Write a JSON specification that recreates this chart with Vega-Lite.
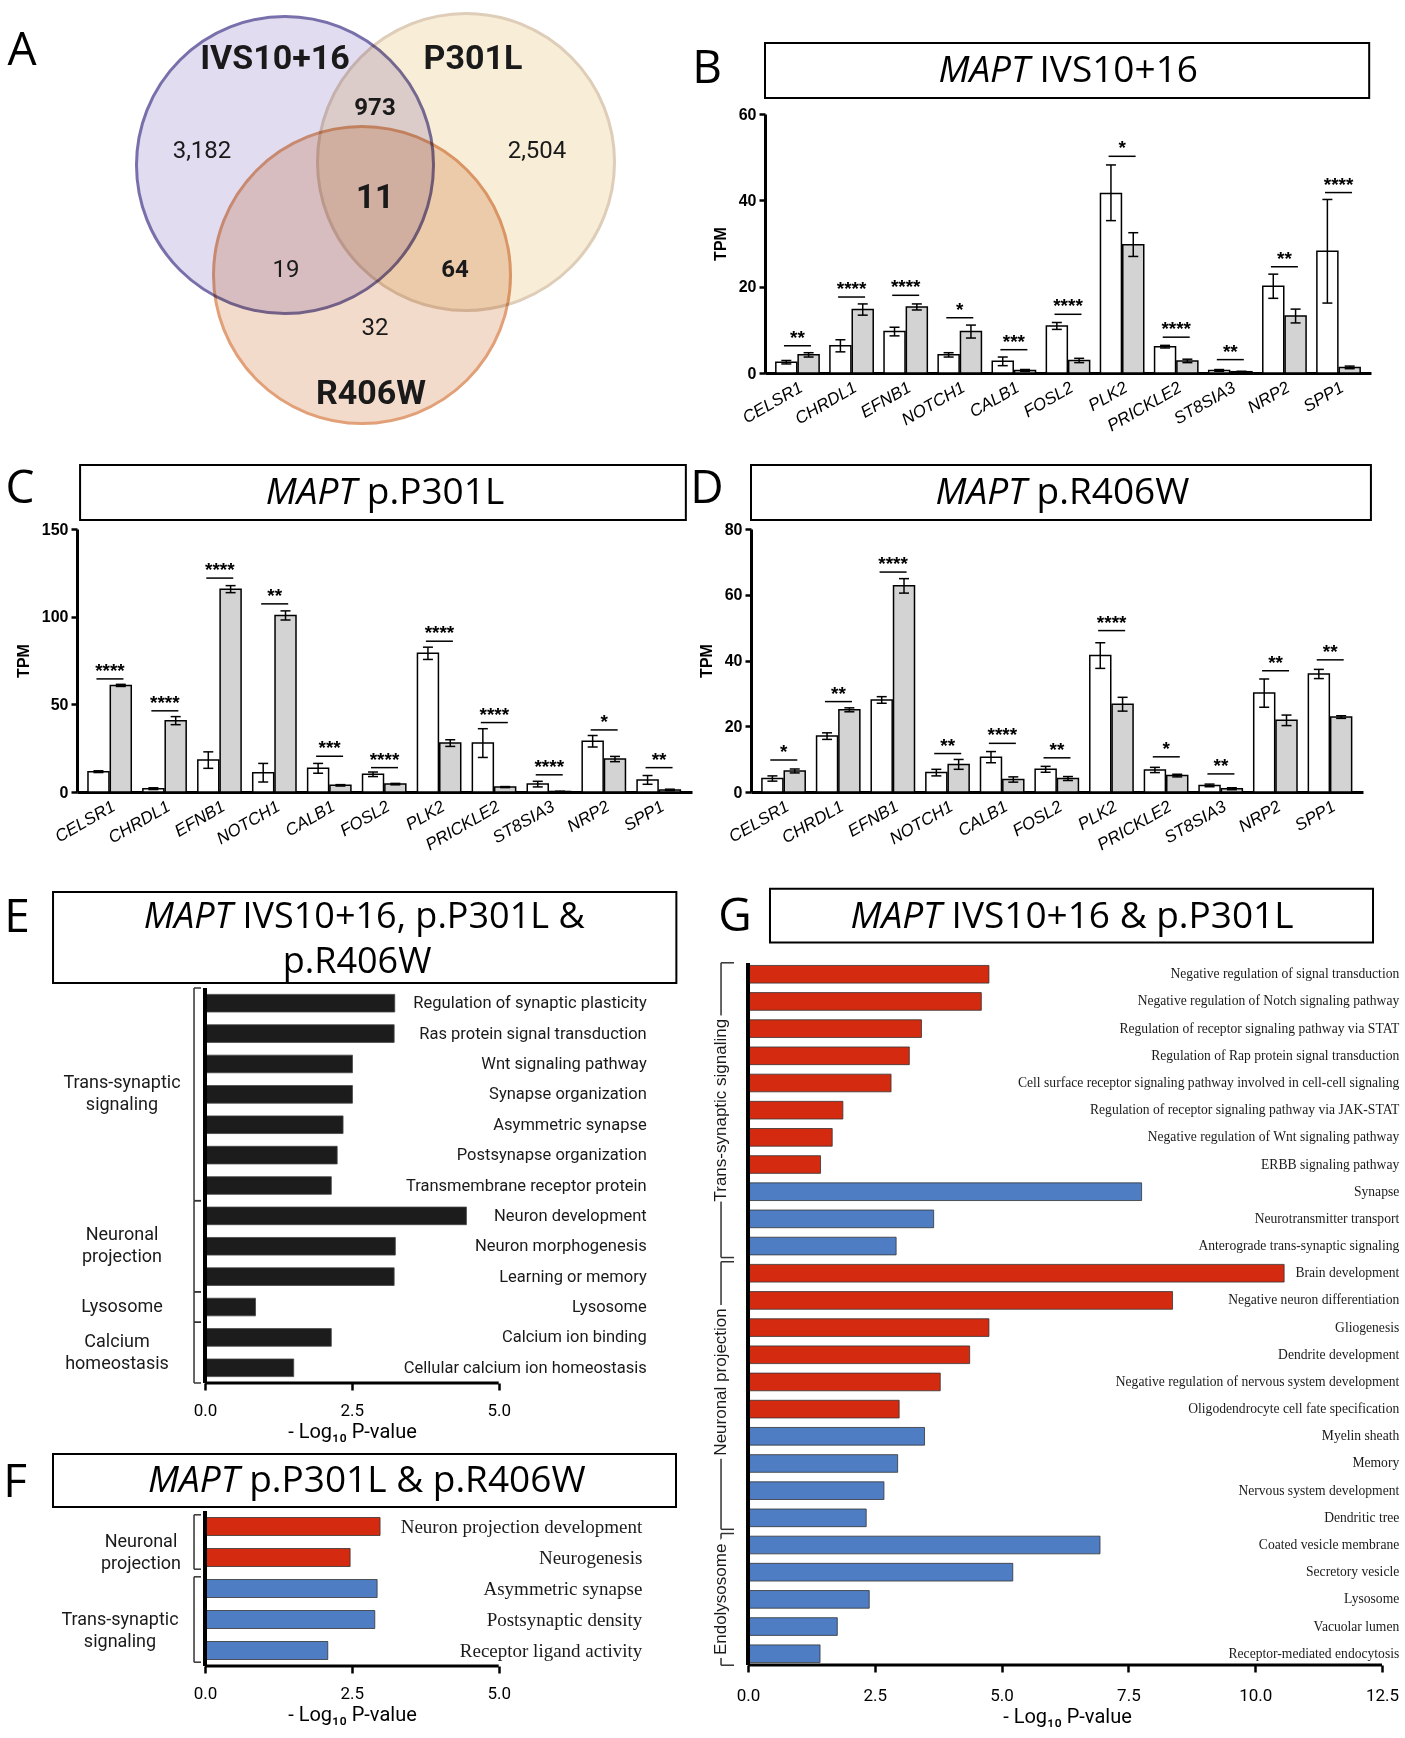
{
  "$schema": "https://vega.github.io/schema/vega-lite/v6.json",
  "background": "white",
  "padding": {"left": 0, "top": 7, "right": 5, "bottom": 5},
  "bounds": "flush",
  "spacing": 422,
  "resolve": {"scale": {"fill": "independent", "stroke": "independent"}},
  "config": {
    "view": {"stroke": null},
    "axis": {"domainColor": "black", "tickColor": "black", "labelColor": "black", "titleColor": "black", "grid": false},
    "text": {"color": "black"}
  },
  "datasets": {
    "venn_sets": [
      {"set": "IVS10+16", "cx": 2.85, "cy": 1.22},
      {"set": "P301L", "cx": 4.66, "cy": 1.19},
      {"set": "R406W", "cx": 3.62, "cy": 2.32}
    ],
    "venn_names": [
      {"set": "IVS10+16", "x": 2.75, "y": 0.16},
      {"set": "P301L", "x": 4.73, "y": 0.16},
      {"set": "R406W", "x": 3.71, "y": 3.51}
    ],
    "venn_counts": [
      {"region": "IVS10+16 only", "count": "3,182", "x": 2.02, "y": 1.08},
      {"region": "P301L only", "count": "2,504", "x": 5.37, "y": 1.08},
      {"region": "IVS10+16 & R406W", "count": "19", "x": 2.86, "y": 2.27},
      {"region": "R406W only", "count": "32", "x": 3.75, "y": 2.85}
    ],
    "venn_counts_bold": [
      {"region": "IVS10+16 & P301L", "count": "973", "x": 3.75, "y": 0.65},
      {"region": "P301L & R406W", "count": "64", "x": 4.55, "y": 2.27}
    ],
    "venn_core": [
      {"region": "All three", "count": "11", "x": 3.75, "y": 1.55}
    ],
    "b_tpm": [
      {"gene": "CELSR1", "group": "Control", "tpm": 2.5, "lo": 2.1, "hi": 2.9},
      {"gene": "CELSR1", "group": "Mutant", "tpm": 4.2, "lo": 3.7, "hi": 4.7},
      {"gene": "CHRDL1", "group": "Control", "tpm": 6.3, "lo": 4.9, "hi": 7.7},
      {"gene": "CHRDL1", "group": "Mutant", "tpm": 14.7, "lo": 13.4, "hi": 16.0},
      {"gene": "EFNB1", "group": "Control", "tpm": 9.6, "lo": 8.6, "hi": 10.6},
      {"gene": "EFNB1", "group": "Mutant", "tpm": 15.3, "lo": 14.6, "hi": 16.0},
      {"gene": "NOTCH1", "group": "Control", "tpm": 4.2, "lo": 3.7, "hi": 4.7},
      {"gene": "NOTCH1", "group": "Mutant", "tpm": 9.6, "lo": 8.1, "hi": 11.1},
      {"gene": "CALB1", "group": "Control", "tpm": 2.7, "lo": 1.7, "hi": 3.7},
      {"gene": "CALB1", "group": "Mutant", "tpm": 0.6, "lo": 0.4, "hi": 0.8},
      {"gene": "FOSL2", "group": "Control", "tpm": 10.9, "lo": 10.1, "hi": 11.7},
      {"gene": "FOSL2", "group": "Mutant", "tpm": 2.9, "lo": 2.4, "hi": 3.4},
      {"gene": "PLK2", "group": "Control", "tpm": 41.6, "lo": 35.3, "hi": 48.2},
      {"gene": "PLK2", "group": "Mutant", "tpm": 29.7, "lo": 27.0, "hi": 32.5},
      {"gene": "PRICKLE2", "group": "Control", "tpm": 6.1, "lo": 5.8, "hi": 6.4},
      {"gene": "PRICKLE2", "group": "Mutant", "tpm": 2.8, "lo": 2.4, "hi": 3.2},
      {"gene": "ST8SIA3", "group": "Control", "tpm": 0.6, "lo": 0.4, "hi": 0.8},
      {"gene": "ST8SIA3", "group": "Mutant", "tpm": 0.3, "lo": 0.2, "hi": 0.4},
      {"gene": "NRP2", "group": "Control", "tpm": 20.1, "lo": 17.3, "hi": 22.9},
      {"gene": "NRP2", "group": "Mutant", "tpm": 13.2, "lo": 11.6, "hi": 14.8},
      {"gene": "SPP1", "group": "Control", "tpm": 28.2, "lo": 16.2, "hi": 40.2},
      {"gene": "SPP1", "group": "Mutant", "tpm": 1.3, "lo": 1.0, "hi": 1.6}
    ],
    "b_sig": [
      {"gene": "CELSR1", "stars": "**", "level": 6.3},
      {"gene": "CHRDL1", "stars": "****", "level": 17.6},
      {"gene": "EFNB1", "stars": "****", "level": 18.0},
      {"gene": "NOTCH1", "stars": "*", "level": 12.8},
      {"gene": "CALB1", "stars": "***", "level": 5.4},
      {"gene": "FOSL2", "stars": "****", "level": 13.6},
      {"gene": "PLK2", "stars": "*", "level": 50.2},
      {"gene": "PRICKLE2", "stars": "****", "level": 8.3},
      {"gene": "ST8SIA3", "stars": "**", "level": 3.1},
      {"gene": "NRP2", "stars": "**", "level": 24.6},
      {"gene": "SPP1", "stars": "****", "level": 41.8}
    ],
    "c_tpm": [
      {"gene": "CELSR1", "group": "Control", "tpm": 11.6, "lo": 11.1, "hi": 12.1},
      {"gene": "CELSR1", "group": "Mutant", "tpm": 60.8, "lo": 60.2, "hi": 61.4},
      {"gene": "CHRDL1", "group": "Control", "tpm": 1.9, "lo": 1.4, "hi": 2.4},
      {"gene": "CHRDL1", "group": "Mutant", "tpm": 40.7, "lo": 38.4, "hi": 43.0},
      {"gene": "EFNB1", "group": "Control", "tpm": 18.2, "lo": 13.5, "hi": 22.9},
      {"gene": "EFNB1", "group": "Mutant", "tpm": 115.7, "lo": 113.7, "hi": 117.7},
      {"gene": "NOTCH1", "group": "Control", "tpm": 11.0, "lo": 5.7, "hi": 16.3},
      {"gene": "NOTCH1", "group": "Mutant", "tpm": 100.7, "lo": 98.1, "hi": 103.3},
      {"gene": "CALB1", "group": "Control", "tpm": 13.5, "lo": 10.7, "hi": 16.3},
      {"gene": "CALB1", "group": "Mutant", "tpm": 3.8, "lo": 3.4, "hi": 4.2},
      {"gene": "FOSL2", "group": "Control", "tpm": 10.1, "lo": 8.8, "hi": 11.4},
      {"gene": "FOSL2", "group": "Mutant", "tpm": 4.5, "lo": 4.1, "hi": 4.9},
      {"gene": "PLK2", "group": "Control", "tpm": 79.1, "lo": 75.6, "hi": 82.6},
      {"gene": "PLK2", "group": "Mutant", "tpm": 27.9, "lo": 26.0, "hi": 29.8},
      {"gene": "PRICKLE2", "group": "Control", "tpm": 27.9, "lo": 19.7, "hi": 36.1},
      {"gene": "PRICKLE2", "group": "Mutant", "tpm": 2.8, "lo": 2.5, "hi": 3.1},
      {"gene": "ST8SIA3", "group": "Control", "tpm": 4.5, "lo": 2.9, "hi": 6.1},
      {"gene": "ST8SIA3", "group": "Mutant", "tpm": 0.3, "lo": 0.2, "hi": 0.4},
      {"gene": "NRP2", "group": "Control", "tpm": 28.9, "lo": 25.6, "hi": 32.2},
      {"gene": "NRP2", "group": "Mutant", "tpm": 18.8, "lo": 17.3, "hi": 20.3},
      {"gene": "SPP1", "group": "Control", "tpm": 6.9, "lo": 4.4, "hi": 9.4},
      {"gene": "SPP1", "group": "Mutant", "tpm": 1.2, "lo": 0.8, "hi": 1.6}
    ],
    "c_sig": [
      {"gene": "CELSR1", "stars": "****", "level": 64.5},
      {"gene": "CHRDL1", "stars": "****", "level": 46.3},
      {"gene": "EFNB1", "stars": "****", "level": 122},
      {"gene": "NOTCH1", "stars": "**", "level": 107.3},
      {"gene": "CALB1", "stars": "***", "level": 20.4},
      {"gene": "FOSL2", "stars": "****", "level": 13.9},
      {"gene": "PLK2", "stars": "****", "level": 86},
      {"gene": "PRICKLE2", "stars": "****", "level": 39.6},
      {"gene": "ST8SIA3", "stars": "****", "level": 9.8},
      {"gene": "NRP2", "stars": "*", "level": 35.4},
      {"gene": "SPP1", "stars": "**", "level": 13.9}
    ],
    "d_tpm": [
      {"gene": "CELSR1", "group": "Control", "tpm": 4.1, "lo": 3.3, "hi": 4.9},
      {"gene": "CELSR1", "group": "Mutant", "tpm": 6.4, "lo": 5.8, "hi": 7.0},
      {"gene": "CHRDL1", "group": "Control", "tpm": 17.0, "lo": 16.0, "hi": 18.0},
      {"gene": "CHRDL1", "group": "Mutant", "tpm": 25.0, "lo": 24.4, "hi": 25.6},
      {"gene": "EFNB1", "group": "Control", "tpm": 28.0, "lo": 27.0, "hi": 29.0},
      {"gene": "EFNB1", "group": "Mutant", "tpm": 62.7, "lo": 60.5, "hi": 64.9},
      {"gene": "NOTCH1", "group": "Control", "tpm": 5.9, "lo": 4.9, "hi": 6.9},
      {"gene": "NOTCH1", "group": "Mutant", "tpm": 8.4, "lo": 6.9, "hi": 9.9},
      {"gene": "CALB1", "group": "Control", "tpm": 10.6, "lo": 8.9, "hi": 12.3},
      {"gene": "CALB1", "group": "Mutant", "tpm": 3.8, "lo": 3.0, "hi": 4.6},
      {"gene": "FOSL2", "group": "Control", "tpm": 6.9, "lo": 6.0, "hi": 7.8},
      {"gene": "FOSL2", "group": "Mutant", "tpm": 4.1, "lo": 3.5, "hi": 4.7},
      {"gene": "PLK2", "group": "Control", "tpm": 41.5, "lo": 37.6, "hi": 45.4},
      {"gene": "PLK2", "group": "Mutant", "tpm": 26.7, "lo": 24.6, "hi": 28.8},
      {"gene": "PRICKLE2", "group": "Control", "tpm": 6.7, "lo": 5.9, "hi": 7.5},
      {"gene": "PRICKLE2", "group": "Mutant", "tpm": 5.0, "lo": 4.6, "hi": 5.4},
      {"gene": "ST8SIA3", "group": "Control", "tpm": 2.0, "lo": 1.6, "hi": 2.4},
      {"gene": "ST8SIA3", "group": "Mutant", "tpm": 1.0, "lo": 0.7, "hi": 1.3},
      {"gene": "NRP2", "group": "Control", "tpm": 30.1, "lo": 25.8, "hi": 34.4},
      {"gene": "NRP2", "group": "Mutant", "tpm": 21.8, "lo": 20.2, "hi": 23.4},
      {"gene": "SPP1", "group": "Control", "tpm": 35.9, "lo": 34.5, "hi": 37.3},
      {"gene": "SPP1", "group": "Mutant", "tpm": 22.8, "lo": 22.4, "hi": 23.2}
    ],
    "d_sig": [
      {"gene": "CELSR1", "stars": "*", "level": 9.7},
      {"gene": "CHRDL1", "stars": "**", "level": 27.5},
      {"gene": "EFNB1", "stars": "****", "level": 66.9},
      {"gene": "NOTCH1", "stars": "**", "level": 11.7},
      {"gene": "CALB1", "stars": "****", "level": 14.8},
      {"gene": "FOSL2", "stars": "**", "level": 10.4},
      {"gene": "PLK2", "stars": "****", "level": 49.1},
      {"gene": "PRICKLE2", "stars": "*", "level": 10.7},
      {"gene": "ST8SIA3", "stars": "**", "level": 5.5},
      {"gene": "NRP2", "stars": "**", "level": 36.9},
      {"gene": "SPP1", "stars": "**", "level": 40.2}
    ],
    "e_terms": [
      {"term": "Regulation of synaptic plasticity", "neglog10p": 3.23},
      {"term": "Ras protein signal transduction", "neglog10p": 3.22},
      {"term": "Wnt signaling pathway", "neglog10p": 2.51},
      {"term": "Synapse organization", "neglog10p": 2.51},
      {"term": "Asymmetric synapse", "neglog10p": 2.35},
      {"term": "Postsynapse organization", "neglog10p": 2.25},
      {"term": "Transmembrane receptor protein", "neglog10p": 2.15},
      {"term": "Neuron development", "neglog10p": 4.45},
      {"term": "Neuron morphogenesis", "neglog10p": 3.24},
      {"term": "Learning or memory", "neglog10p": 3.22},
      {"term": "Lysosome", "neglog10p": 0.86},
      {"term": "Calcium ion binding", "neglog10p": 2.15},
      {"term": "Cellular calcium ion homeostasis", "neglog10p": 1.51}
    ],
    "e_groups": [
      {"group": "Trans-synaptic signaling", "first": "Regulation of synaptic plasticity", "last": "Transmembrane receptor protein", "at": "Synapse organization"},
      {"group": "Neuronal projection", "first": "Neuron development", "last": "Learning or memory", "at": "Neuron morphogenesis"},
      {"group": "Lysosome", "first": "Lysosome", "last": "Lysosome", "at": "Lysosome"},
      {"group": "Calcium homeostasis", "first": "Calcium ion binding", "last": "Cellular calcium ion homeostasis", "at": "Calcium ion binding"}
    ],
    "f_terms": [
      {"term": "Neuron projection development", "neglog10p": 2.98, "category": "Set 1"},
      {"term": "Neurogenesis", "neglog10p": 2.47, "category": "Set 1"},
      {"term": "Asymmetric synapse", "neglog10p": 2.93, "category": "Set 2"},
      {"term": "Postsynaptic density", "neglog10p": 2.89, "category": "Set 2"},
      {"term": "Receptor ligand activity", "neglog10p": 2.09, "category": "Set 2"}
    ],
    "f_groups": [
      {"group": "Neuronal projection", "first": "Neuron projection development", "last": "Neurogenesis", "at": "Neuron projection development"},
      {"group": "Trans-synaptic signaling", "first": "Asymmetric synapse", "last": "Receptor ligand activity", "at": "Postsynaptic density"}
    ],
    "g_terms": [
      {"term": "Negative regulation of signal transduction", "neglog10p": 4.75, "category": "Set 1"},
      {"term": "Negative regulation of Notch signaling pathway", "neglog10p": 4.60, "category": "Set 1"},
      {"term": "Regulation of receptor signaling pathway via STAT", "neglog10p": 3.42, "category": "Set 1"},
      {"term": "Regulation of Rap protein signal transduction", "neglog10p": 3.18, "category": "Set 1"},
      {"term": "Cell surface receptor signaling pathway involved in cell-cell signaling", "neglog10p": 2.82, "category": "Set 1"},
      {"term": "Regulation of receptor signaling pathway via JAK-STAT", "neglog10p": 1.87, "category": "Set 1"},
      {"term": "Negative regulation of Wnt signaling pathway", "neglog10p": 1.66, "category": "Set 1"},
      {"term": "ERBB signaling pathway", "neglog10p": 1.43, "category": "Set 1"},
      {"term": "Synapse", "neglog10p": 7.76, "category": "Set 2"},
      {"term": "Neurotransmitter transport", "neglog10p": 3.66, "category": "Set 2"},
      {"term": "Anterograde trans-synaptic signaling", "neglog10p": 2.92, "category": "Set 2"},
      {"term": "Brain development", "neglog10p": 10.57, "category": "Set 1"},
      {"term": "Negative neuron differentiation", "neglog10p": 8.37, "category": "Set 1"},
      {"term": "Gliogenesis", "neglog10p": 4.75, "category": "Set 1"},
      {"term": "Dendrite development", "neglog10p": 4.37, "category": "Set 1"},
      {"term": "Negative regulation of nervous system development", "neglog10p": 3.79, "category": "Set 1"},
      {"term": "Oligodendrocyte cell fate specification", "neglog10p": 2.98, "category": "Set 1"},
      {"term": "Myelin sheath", "neglog10p": 3.48, "category": "Set 2"},
      {"term": "Memory", "neglog10p": 2.95, "category": "Set 2"},
      {"term": "Nervous system development", "neglog10p": 2.68, "category": "Set 2"},
      {"term": "Dendritic tree", "neglog10p": 2.33, "category": "Set 2"},
      {"term": "Coated vesicle membrane", "neglog10p": 6.94, "category": "Set 2"},
      {"term": "Secretory vesicle", "neglog10p": 5.22, "category": "Set 2"},
      {"term": "Lysosome", "neglog10p": 2.39, "category": "Set 2"},
      {"term": "Vacuolar lumen", "neglog10p": 1.76, "category": "Set 2"},
      {"term": "Receptor-mediated endocytosis", "neglog10p": 1.42, "category": "Set 2"}
    ],
    "g_groups": [
      {"group": "Trans-synaptic signaling", "first": "Negative regulation of signal transduction", "last": "Anterograde trans-synaptic signaling", "at": "Regulation of receptor signaling pathway via JAK-STAT"},
      {"group": "Neuronal projection", "first": "Brain development", "last": "Dendritic tree", "at": "Negative regulation of nervous system development"},
      {"group": "Endolysosome", "first": "Coated vesicle membrane", "last": "Receptor-mediated endocytosis", "at": "Lysosome"}
    ]
  },
  "vconcat": [
    {
      "hconcat": [
        {
          "width": 745, "height": 330,
          "layer": [
            {
              "data": {"name": "venn_sets"},
              "mark": {"type": "point", "shape": "circle", "size": 88209, "filled": true, "opacity": 1, "strokeWidth": 3, "blend": "multiply"},
              "encoding": {
                "x": {"field": "cx", "type": "quantitative", "scale": {"domain": [0, 7.45], "nice": false, "zero": false}, "axis": null},
                "y": {"field": "cy", "type": "quantitative", "scale": {"domain": [0, 3.3], "nice": false, "zero": false, "reverse": true}, "axis": null},
                "fill": {"field": "set", "type": "nominal", "scale": {"domain": ["IVS10+16", "P301L", "R406W"], "range": ["#e2dcf1", "#f8edd6", "#f3dbcb"]}, "legend": null},
                "stroke": {"field": "set", "type": "nominal", "scale": {"domain": ["IVS10+16", "P301L", "R406W"], "range": ["#7870aa", "#decdb8", "#e1a077"]}, "legend": null}
              }
            },
            {
              "data": {"name": "venn_names"},
              "mark": {"type": "text", "font": "Roboto", "fontWeight": "bold", "fontSize": 34, "align": "center", "baseline": "middle", "color": "#1a1a1a"},
              "encoding": {
                "x": {"field": "x", "type": "quantitative", "axis": null},
                "y": {"field": "y", "type": "quantitative", "axis": null},
                "text": {"field": "set"}
              }
            },
            {
              "data": {"name": "venn_counts"},
              "mark": {"type": "text", "font": "Roboto", "fontSize": 24, "align": "center", "baseline": "middle", "color": "#1a1a1a"},
              "encoding": {
                "x": {"field": "x", "type": "quantitative", "axis": null},
                "y": {"field": "y", "type": "quantitative", "axis": null},
                "text": {"field": "count"}
              }
            },
            {
              "data": {"name": "venn_counts_bold"},
              "mark": {"type": "text", "font": "Roboto", "fontWeight": "bold", "fontSize": 24, "align": "center", "baseline": "middle", "color": "#1a1a1a"},
              "encoding": {
                "x": {"field": "x", "type": "quantitative", "axis": null},
                "y": {"field": "y", "type": "quantitative", "axis": null},
                "text": {"field": "count"}
              }
            },
            {
              "data": {"name": "venn_core"},
              "mark": {"type": "text", "font": "Roboto", "fontWeight": "bold", "fontSize": 33, "align": "center", "baseline": "middle", "color": "#1a1a1a"},
              "encoding": {
                "x": {"field": "x", "type": "quantitative", "axis": null},
                "y": {"field": "y", "type": "quantitative", "axis": null},
                "text": {"field": "count"}
              }
            },
            {
              "data": {"values": [{}]},
              "mark": {"type": "text", "text": "A", "font": "Open Sans", "fontSize": 46, "align": "center", "baseline": "middle"},
              "encoding": {"x": {"datum": 0.22, "axis": null}, "y": {"datum": 0.08, "axis": null}}
            }
          ]
        },
        {
          "vconcat": [
            {
              "width": 606, "height": 55,
              "data": {"values": [{}]},
              "layer": [
                {
                  "mark": {"type": "rect", "fill": "white", "stroke": "black", "strokeWidth": 2},
                  "encoding": {
                    "x": {"datum": 0, "type": "quantitative", "scale": {"domain": [0, 1], "nice": false, "zero": false}, "axis": null},
                    "x2": {"datum": 0.997},
                    "y": {"datum": 0, "type": "quantitative", "scale": {"domain": [0, 1], "nice": false, "zero": false, "reverse": true}, "axis": null},
                    "y2": {"datum": 1}
                  }
                },
                {
                  "mark": {"type": "text", "text": "MAPT", "font": "Open Sans", "fontSize": 37, "fontStyle": "italic", "align": "right", "baseline": "middle"},
                  "encoding": {"x": {"datum": 0.4365, "axis": null}, "y": {"datum": 0.5, "axis": null}}
                },
                {
                  "mark": {"type": "text", "text": "IVS10+16", "font": "Open Sans", "fontSize": 37, "align": "left", "baseline": "middle", "dx": 10},
                  "encoding": {"x": {"datum": 0.4365, "axis": null}, "y": {"datum": 0.5, "axis": null}}
                },
                {
                  "mark": {"type": "text", "text": "B", "font": "Open Sans", "fontSize": 46, "align": "center", "baseline": "middle"},
                  "encoding": {"x": {"datum": -0.0957, "axis": null}, "y": {"datum": 0.473, "axis": null}}
                }
              ]
            },
            {
              "width": 606, "height": 259,
              "layer": [
                {
                  "data": {"name": "b_tpm"},
                  "mark": {"type": "bar", "stroke": "black", "strokeWidth": 1.5},
                  "encoding": {
                    "x": {"field": "gene", "type": "nominal", "sort": null,
                          "scale": {"domain": ["CELSR1","CHRDL1","EFNB1","NOTCH1","CALB1","FOSL2","PLK2","PRICKLE2","ST8SIA3","NRP2","SPP1"], "paddingInner": 0.2, "paddingOuter": 0.2},
                          "axis": {"title": null, "labelAngle": -30, "labelAlign": "right", "labelBaseline": "top", "labelFont": "Liberation Sans", "labelFontStyle": "italic", "labelFontSize": 17, "labelPadding": 6, "ticks": false, "domainWidth": 3, "labelLimit": 200}},
                    "xOffset": {"field": "group", "type": "nominal", "sort": null, "scale": {"domain": ["Control", "Mutant"], "paddingInner": 0.06}},
                    "y": {"field": "tpm", "type": "quantitative", "scale": {"domain": [0, 60], "nice": false},
                          "axis": {"title": "TPM", "values": [0, 20, 40, 60], "labelFont": "Liberation Sans", "labelFontWeight": "bold", "labelFontSize": 16, "titleFont": "Liberation Sans", "titleFontWeight": "bold", "titleFontSize": 16, "titlePadding": 10, "tickSize": 6, "tickWidth": 2.5, "domainWidth": 3, "labelPadding": 3}},
                    "fill": {"field": "group", "type": "nominal", "scale": {"domain": ["Control", "Mutant"], "range": ["#ffffff", "#d3d3d3"]}, "legend": null}
                  }
                },
                {
                  "data": {"name": "b_tpm"},
                  "mark": {"type": "rule", "color": "black", "strokeWidth": 1.5},
                  "encoding": {
                    "x": {"field": "gene", "type": "nominal"},
                    "xOffset": {"field": "group", "type": "nominal"},
                    "y": {"field": "lo", "type": "quantitative"},
                    "y2": {"field": "hi"}
                  }
                },
                {
                  "data": {"name": "b_tpm"},
                  "mark": {"type": "tick", "orient": "horizontal", "size": 10, "thickness": 1.5, "color": "black", "opacity": 1},
                  "encoding": {
                    "x": {"field": "gene", "type": "nominal"},
                    "xOffset": {"field": "group", "type": "nominal"},
                    "y": {"field": "lo", "type": "quantitative"}
                  }
                },
                {
                  "data": {"name": "b_tpm"},
                  "mark": {"type": "tick", "orient": "horizontal", "size": 10, "thickness": 1.5, "color": "black", "opacity": 1},
                  "encoding": {
                    "x": {"field": "gene", "type": "nominal"},
                    "xOffset": {"field": "group", "type": "nominal"},
                    "y": {"field": "hi", "type": "quantitative"}
                  }
                },
                {
                  "data": {"name": "b_sig"},
                  "mark": {"type": "tick", "orient": "horizontal", "size": 27, "thickness": 1.5, "color": "black", "opacity": 1},
                  "encoding": {
                    "x": {"field": "gene", "type": "nominal"},
                    "y": {"field": "level", "type": "quantitative"}
                  }
                },
                {
                  "data": {"name": "b_sig"},
                  "mark": {"type": "text", "font": "Liberation Sans", "fontWeight": "bold", "fontSize": 19, "baseline": "alphabetic", "dy": -2},
                  "encoding": {
                    "x": {"field": "gene", "type": "nominal"},
                    "y": {"field": "level", "type": "quantitative"},
                    "text": {"field": "stars"}
                  }
                }
              ]
            }
          ],
          "spacing": 16,
          "bounds": "flush"
        }
      ],
      "spacing": 20,
      "bounds": "flush",
      "resolve": {"scale": {"fill": "independent", "stroke": "independent"}}
    },
    {
      "hconcat": [
        {
          "hconcat": [
            {
              "width": 40, "height": 48,
              "data": {"values": [{}]},
              "mark": {"type": "text", "text": "C", "font": "Open Sans", "fontSize": 46, "align": "center", "baseline": "middle"},
              "encoding": {}
            },
            {
              "vconcat": [
                {
                  "width": 615, "height": 55,
                  "data": {"values": [{}]},
                  "layer": [
                    {
                      "mark": {"type": "rect", "fill": "white", "stroke": "black", "strokeWidth": 2},
                      "encoding": {
                        "x": {"datum": 0.005, "type": "quantitative", "scale": {"domain": [0, 1], "nice": false, "zero": false}, "axis": null},
                        "x2": {"datum": 0.99},
                        "y": {"datum": 0, "type": "quantitative", "scale": {"domain": [0, 1], "nice": false, "zero": false, "reverse": true}, "axis": null},
                        "y2": {"datum": 1}
                      }
                    },
                    {
                      "mark": {"type": "text", "text": "MAPT", "font": "Open Sans", "fontSize": 37, "fontStyle": "italic", "align": "right", "baseline": "middle"},
                      "encoding": {"x": {"datum": 0.455, "axis": null}, "y": {"datum": 0.5, "axis": null}}
                    },
                    {
                      "mark": {"type": "text", "text": "p.P301L", "font": "Open Sans", "fontSize": 37, "align": "left", "baseline": "middle", "dx": 10},
                      "encoding": {"x": {"datum": 0.455, "axis": null}, "y": {"datum": 0.5, "axis": null}}
                    }
                  ]
                },
                {
                  "width": 615, "height": 263,
                  "layer": [
                    {
                      "data": {"name": "c_tpm"},
                      "mark": {"type": "bar", "stroke": "black", "strokeWidth": 1.5},
                      "encoding": {
                        "x": {"field": "gene", "type": "nominal", "sort": null,
                              "scale": {"domain": ["CELSR1","CHRDL1","EFNB1","NOTCH1","CALB1","FOSL2","PLK2","PRICKLE2","ST8SIA3","NRP2","SPP1"], "paddingInner": 0.2, "paddingOuter": 0.2},
                              "axis": {"title": null, "labelAngle": -30, "labelAlign": "right", "labelBaseline": "top", "labelFont": "Liberation Sans", "labelFontStyle": "italic", "labelFontSize": 17, "labelPadding": 6, "ticks": false, "domainWidth": 3, "labelLimit": 200}},
                        "xOffset": {"field": "group", "type": "nominal", "sort": null, "scale": {"domain": ["Control", "Mutant"], "paddingInner": 0.06}},
                        "y": {"field": "tpm", "type": "quantitative", "scale": {"domain": [0, 150], "nice": false},
                              "axis": {"title": "TPM", "values": [0, 50, 100, 150], "labelFont": "Liberation Sans", "labelFontWeight": "bold", "labelFontSize": 16, "titleFont": "Liberation Sans", "titleFontWeight": "bold", "titleFontSize": 16, "titlePadding": 10, "tickSize": 6, "tickWidth": 2.5, "domainWidth": 3, "labelPadding": 3}},
                        "fill": {"field": "group", "type": "nominal", "scale": {"domain": ["Control", "Mutant"], "range": ["#ffffff", "#d3d3d3"]}, "legend": null}
                      }
                    },
                    {
                      "data": {"name": "c_tpm"},
                      "mark": {"type": "rule", "color": "black", "strokeWidth": 1.5},
                      "encoding": {
                        "x": {"field": "gene", "type": "nominal"},
                        "xOffset": {"field": "group", "type": "nominal"},
                        "y": {"field": "lo", "type": "quantitative"},
                        "y2": {"field": "hi"}
                      }
                    },
                    {
                      "data": {"name": "c_tpm"},
                      "mark": {"type": "tick", "orient": "horizontal", "size": 10, "thickness": 1.5, "color": "black", "opacity": 1},
                      "encoding": {
                        "x": {"field": "gene", "type": "nominal"},
                        "xOffset": {"field": "group", "type": "nominal"},
                        "y": {"field": "lo", "type": "quantitative"}
                      }
                    },
                    {
                      "data": {"name": "c_tpm"},
                      "mark": {"type": "tick", "orient": "horizontal", "size": 10, "thickness": 1.5, "color": "black", "opacity": 1},
                      "encoding": {
                        "x": {"field": "gene", "type": "nominal"},
                        "xOffset": {"field": "group", "type": "nominal"},
                        "y": {"field": "hi", "type": "quantitative"}
                      }
                    },
                    {
                      "data": {"name": "c_sig"},
                      "mark": {"type": "tick", "orient": "horizontal", "size": 27, "thickness": 1.5, "color": "black", "opacity": 1},
                      "encoding": {
                        "x": {"field": "gene", "type": "nominal"},
                        "y": {"field": "level", "type": "quantitative"}
                      }
                    },
                    {
                      "data": {"name": "c_sig"},
                      "mark": {"type": "text", "font": "Liberation Sans", "fontWeight": "bold", "fontSize": 19, "baseline": "alphabetic", "dy": -2},
                      "encoding": {
                        "x": {"field": "gene", "type": "nominal"},
                        "y": {"field": "level", "type": "quantitative"},
                        "text": {"field": "stars"}
                      }
                    }
                  ]
                }
              ],
              "spacing": 9,
              "bounds": "flush"
            }
          ],
          "spacing": 37,
          "bounds": "flush",
          "resolve": {"scale": {"fill": "independent", "stroke": "independent"}}
        },
        {
          "vconcat": [
            {
              "width": 615, "height": 55,
              "data": {"values": [{}]},
              "layer": [
                {
                  "mark": {"type": "rect", "fill": "white", "stroke": "black", "strokeWidth": 2},
                  "encoding": {
                    "x": {"datum": 0, "type": "quantitative", "scale": {"domain": [0, 1], "nice": false, "zero": false}, "axis": null},
                    "x2": {"datum": 1.008},
                    "y": {"datum": 0, "type": "quantitative", "scale": {"domain": [0, 1], "nice": false, "zero": false, "reverse": true}, "axis": null},
                    "y2": {"datum": 1}
                  }
                },
                {
                  "mark": {"type": "text", "text": "MAPT", "font": "Open Sans", "fontSize": 37, "fontStyle": "italic", "align": "right", "baseline": "middle"},
                  "encoding": {"x": {"datum": 0.4481, "axis": null}, "y": {"datum": 0.5, "axis": null}}
                },
                {
                  "mark": {"type": "text", "text": "p.R406W", "font": "Open Sans", "fontSize": 37, "align": "left", "baseline": "middle", "dx": 10},
                  "encoding": {"x": {"datum": 0.4481, "axis": null}, "y": {"datum": 0.5, "axis": null}}
                },
                {
                  "mark": {"type": "text", "text": "D", "font": "Open Sans", "fontSize": 46, "align": "center", "baseline": "middle"},
                  "encoding": {"x": {"datum": -0.0715, "axis": null}, "y": {"datum": 0.436, "axis": null}}
                }
              ]
            },
            {
              "width": 612, "height": 263,
              "layer": [
                {
                  "data": {"name": "d_tpm"},
                  "mark": {"type": "bar", "stroke": "black", "strokeWidth": 1.5},
                  "encoding": {
                    "x": {"field": "gene", "type": "nominal", "sort": null,
                          "scale": {"domain": ["CELSR1","CHRDL1","EFNB1","NOTCH1","CALB1","FOSL2","PLK2","PRICKLE2","ST8SIA3","NRP2","SPP1"], "paddingInner": 0.2, "paddingOuter": 0.2},
                          "axis": {"title": null, "labelAngle": -30, "labelAlign": "right", "labelBaseline": "top", "labelFont": "Liberation Sans", "labelFontStyle": "italic", "labelFontSize": 17, "labelPadding": 6, "ticks": false, "domainWidth": 3, "labelLimit": 200}},
                    "xOffset": {"field": "group", "type": "nominal", "sort": null, "scale": {"domain": ["Control", "Mutant"], "paddingInner": 0.06}},
                    "y": {"field": "tpm", "type": "quantitative", "scale": {"domain": [0, 80], "nice": false},
                          "axis": {"title": "TPM", "values": [0, 20, 40, 60, 80], "labelFont": "Liberation Sans", "labelFontWeight": "bold", "labelFontSize": 16, "titleFont": "Liberation Sans", "titleFontWeight": "bold", "titleFontSize": 16, "titlePadding": 10, "tickSize": 6, "tickWidth": 2.5, "domainWidth": 3, "labelPadding": 3}},
                    "fill": {"field": "group", "type": "nominal", "scale": {"domain": ["Control", "Mutant"], "range": ["#ffffff", "#d3d3d3"]}, "legend": null}
                  }
                },
                {
                  "data": {"name": "d_tpm"},
                  "mark": {"type": "rule", "color": "black", "strokeWidth": 1.5},
                  "encoding": {
                    "x": {"field": "gene", "type": "nominal"},
                    "xOffset": {"field": "group", "type": "nominal"},
                    "y": {"field": "lo", "type": "quantitative"},
                    "y2": {"field": "hi"}
                  }
                },
                {
                  "data": {"name": "d_tpm"},
                  "mark": {"type": "tick", "orient": "horizontal", "size": 10, "thickness": 1.5, "color": "black", "opacity": 1},
                  "encoding": {
                    "x": {"field": "gene", "type": "nominal"},
                    "xOffset": {"field": "group", "type": "nominal"},
                    "y": {"field": "lo", "type": "quantitative"}
                  }
                },
                {
                  "data": {"name": "d_tpm"},
                  "mark": {"type": "tick", "orient": "horizontal", "size": 10, "thickness": 1.5, "color": "black", "opacity": 1},
                  "encoding": {
                    "x": {"field": "gene", "type": "nominal"},
                    "xOffset": {"field": "group", "type": "nominal"},
                    "y": {"field": "hi", "type": "quantitative"}
                  }
                },
                {
                  "data": {"name": "d_sig"},
                  "mark": {"type": "tick", "orient": "horizontal", "size": 27, "thickness": 1.5, "color": "black", "opacity": 1},
                  "encoding": {
                    "x": {"field": "gene", "type": "nominal"},
                    "y": {"field": "level", "type": "quantitative"}
                  }
                },
                {
                  "data": {"name": "d_sig"},
                  "mark": {"type": "text", "font": "Liberation Sans", "fontWeight": "bold", "fontSize": 19, "baseline": "alphabetic", "dy": -2},
                  "encoding": {
                    "x": {"field": "gene", "type": "nominal"},
                    "y": {"field": "level", "type": "quantitative"},
                    "text": {"field": "stars"}
                  }
                }
              ]
            }
          ],
          "spacing": 9,
          "bounds": "flush"
        }
      ],
      "spacing": 751,
      "bounds": "flush",
      "resolve": {"scale": {"fill": "independent", "stroke": "independent"}}
    },
    {
      "hconcat": [
        {
          "vconcat": [
            {
              "vconcat": [
                {
                  "width": 673, "height": 96,
                  "data": {"values": [{}]},
                  "layer": [
                    {
                      "mark": {"type": "rect", "fill": "white", "stroke": "black", "strokeWidth": 2},
                      "encoding": {
                        "x": {"datum": 0.0788, "type": "quantitative", "scale": {"domain": [0, 1], "nice": false, "zero": false}, "axis": null},
                        "x2": {"datum": 1.005},
                        "y": {"datum": 0.052, "type": "quantitative", "scale": {"domain": [0, 1], "nice": false, "zero": false, "reverse": true}, "axis": null},
                        "y2": {"datum": 1}
                      }
                    },
                    {
                      "mark": {"type": "text", "text": "MAPT", "font": "Open Sans", "fontSize": 36, "fontStyle": "italic", "align": "right", "baseline": "middle"},
                      "encoding": {"x": {"datum": 0.3455, "axis": null}, "y": {"datum": 0.315, "axis": null}}
                    },
                    {
                      "mark": {"type": "text", "text": "IVS10+16, p.P301L &", "font": "Open Sans", "fontSize": 36, "align": "left", "baseline": "middle", "dx": 10},
                      "encoding": {"x": {"datum": 0.3455, "axis": null}, "y": {"datum": 0.315, "axis": null}}
                    },
                    {
                      "mark": {"type": "text", "text": "p.R406W", "font": "Open Sans", "fontSize": 36, "align": "center", "baseline": "middle"},
                      "encoding": {"x": {"datum": 0.5305, "axis": null}, "y": {"datum": 0.78, "axis": null}}
                    },
                    {
                      "mark": {"type": "text", "text": "E", "font": "Open Sans", "fontSize": 46, "align": "center", "baseline": "middle"},
                      "encoding": {"x": {"datum": 0.0253, "axis": null}, "y": {"datum": 0.323, "axis": null}}
                    }
                  ]
                },
                {
                  "width": 673, "height": 395,
                  "layer": [
                    {
                      "data": {"name": "e_terms"},
                      "mark": {"type": "bar", "color": "#1c1c1c", "stroke": "#444444", "strokeWidth": 0.8},
                      "encoding": {
                        "y": {"field": "term", "type": "nominal", "sort": null,
                              "scale": {"domain": ["Regulation of synaptic plasticity","Ras protein signal transduction","Wnt signaling pathway","Synapse organization","Asymmetric synapse","Postsynapse organization","Transmembrane receptor protein","Neuron development","Neuron morphogenesis","Learning or memory","Lysosome","Calcium ion binding","Cellular calcium ion homeostasis"], "paddingInner": 0.42, "paddingOuter": 0.21},
                              "axis": null},
                        "x": {"field": "neglog10p", "type": "quantitative", "scale": {"domain": [-3.49, 7.967], "nice": false, "zero": false},
                              "axis": {"title": "- Log₁₀ P-value", "values": [0, 2.5, 5], "format": ".1f", "domain": false, "tickSize": 7, "tickWidth": 2.5, "labelFont": "Roboto", "labelFontSize": 17, "labelPadding": 12, "titleFont": "Roboto", "titleFontSize": 20, "titleFontWeight": "normal", "titlePadding": 3, "titleX": 352}},
                        "x2": {"datum": 0}
                      }
                    },
                    {
                      "data": {"name": "e_terms"},
                      "mark": {"type": "text", "align": "right", "baseline": "middle", "font": "Roboto", "fontSize": 16.5, "color": "#1a1a1a"},
                      "encoding": {
                        "y": {"field": "term", "type": "nominal", "axis": null},
                        "x": {"datum": 7.52},
                        "text": {"field": "term"}
                      }
                    },
                    {
                      "data": {"values": [{}]},
                      "mark": {"type": "rule", "color": "black", "strokeWidth": 4},
                      "encoding": {"x": {"datum": 0}}
                    },
                    {
                      "data": {"values": [{}]},
                      "mark": {"type": "rule", "color": "black", "strokeWidth": 3},
                      "encoding": {"x": {"datum": 0}, "x2": {"datum": 5}, "y": {"value": "height"}}
                    },
                    {
                      "data": {"name": "e_groups"},
                      "mark": {"type": "rule", "color": "#333333", "strokeWidth": 1.5},
                      "encoding": {
                        "x": {"datum": -0.187},
                        "y": {"field": "first", "type": "nominal", "bandPosition": -0.362, "axis": null},
                        "y2": {"field": "last", "bandPosition": 1.362}
                      }
                    },
                    {
                      "data": {"name": "e_groups"},
                      "mark": {"type": "rule", "color": "#333333", "strokeWidth": 1.5},
                      "encoding": {
                        "x": {"datum": -0.187}, "x2": {"datum": -0.068},
                        "y": {"field": "first", "type": "nominal", "bandPosition": -0.362, "axis": null}
                      }
                    },
                    {
                      "data": {"name": "e_groups"},
                      "mark": {"type": "rule", "color": "#333333", "strokeWidth": 1.5},
                      "encoding": {
                        "x": {"datum": -0.187}, "x2": {"datum": -0.068},
                        "y": {"field": "last", "type": "nominal", "bandPosition": 1.362, "axis": null}
                      }
                    },
                    {
                      "data": {"name": "e_groups"},
                      "transform": [{"filter": {"field": "group", "oneOf": ["Trans-synaptic signaling", "Neuronal projection"]}}],
                      "mark": {"type": "text", "align": "center", "baseline": "middle", "font": "Roboto", "fontSize": 18, "lineBreak": " ", "lineHeight": 22, "dy": -11, "color": "#1a1a1a"},
                      "encoding": {
                        "x": {"datum": -1.413},
                        "y": {"field": "at", "type": "nominal", "axis": null},
                        "text": {"field": "group"}
                      }
                    },
                    {
                      "data": {"name": "e_groups"},
                      "transform": [{"filter": {"field": "group", "equal": "Lysosome"}}],
                      "mark": {"type": "text", "align": "center", "baseline": "middle", "font": "Roboto", "fontSize": 18, "color": "#1a1a1a"},
                      "encoding": {
                        "x": {"datum": -1.413},
                        "y": {"field": "at", "type": "nominal", "axis": null},
                        "text": {"field": "group"}
                      }
                    },
                    {
                      "data": {"name": "e_groups"},
                      "transform": [{"filter": {"field": "group", "equal": "Calcium homeostasis"}}],
                      "mark": {"type": "text", "align": "center", "baseline": "middle", "font": "Roboto", "fontSize": 18, "lineBreak": " ", "lineHeight": 22, "dy": -11, "color": "#1a1a1a"},
                      "encoding": {
                        "x": {"datum": -1.498},
                        "y": {"field": "at", "type": "nominal", "bandPosition": 1.362, "axis": null},
                        "text": {"field": "group"}
                      }
                    }
                  ]
                }
              ],
              "spacing": 5,
              "bounds": "flush"
            },
            {
              "vconcat": [
                {
                  "width": 676, "height": 53,
                  "data": {"values": [{}]},
                  "layer": [
                    {
                      "mark": {"type": "rect", "fill": "white", "stroke": "black", "strokeWidth": 2},
                      "encoding": {
                        "x": {"datum": 0.0784, "type": "quantitative", "scale": {"domain": [0, 1], "nice": false, "zero": false}, "axis": null},
                        "x2": {"datum": 1},
                        "y": {"datum": 0, "type": "quantitative", "scale": {"domain": [0, 1], "nice": false, "zero": false, "reverse": true}, "axis": null},
                        "y2": {"datum": 1}
                      }
                    },
                    {
                      "mark": {"type": "text", "text": "MAPT", "font": "Open Sans", "fontSize": 37, "fontStyle": "italic", "align": "right", "baseline": "middle"},
                      "encoding": {"x": {"datum": 0.3538, "axis": null}, "y": {"datum": 0.5, "axis": null}}
                    },
                    {
                      "mark": {"type": "text", "text": "p.P301L & p.R406W", "font": "Open Sans", "fontSize": 37, "align": "left", "baseline": "middle", "dx": 10},
                      "encoding": {"x": {"datum": 0.3538, "axis": null}, "y": {"datum": 0.5, "axis": null}}
                    },
                    {
                      "mark": {"type": "text", "text": "F", "font": "Open Sans", "fontSize": 46, "align": "center", "baseline": "middle"},
                      "encoding": {"x": {"datum": 0.0222, "axis": null}, "y": {"datum": 0.547, "axis": null}}
                    }
                  ]
                },
                {
                  "width": 673, "height": 155,
                  "layer": [
                    {
                      "data": {"name": "f_terms"},
                      "mark": {"type": "bar", "stroke": "#333333", "strokeWidth": 0.8},
                      "encoding": {
                        "y": {"field": "term", "type": "nominal", "sort": null,
                              "scale": {"domain": ["Neuron projection development","Neurogenesis","Asymmetric synapse","Postsynaptic density","Receptor ligand activity"], "paddingInner": 0.42, "paddingOuter": 0.21},
                              "axis": null},
                        "x": {"field": "neglog10p", "type": "quantitative", "scale": {"domain": [-3.49, 7.967], "nice": false, "zero": false},
                              "axis": {"title": "- Log₁₀ P-value", "values": [0, 2.5, 5], "format": ".1f", "domain": false, "tickSize": 7, "tickWidth": 2.5, "labelFont": "Roboto", "labelFontSize": 17, "labelPadding": 12, "titleFont": "Roboto", "titleFontSize": 20, "titleFontWeight": "normal", "titlePadding": 3, "titleX": 352}},
                        "x2": {"datum": 0},
                        "fill": {"field": "category", "type": "nominal", "scale": {"domain": ["Set 1", "Set 2"], "range": ["#d42b10", "#4f7dc4"]}, "legend": null}
                      }
                    },
                    {
                      "data": {"name": "f_terms"},
                      "mark": {"type": "text", "align": "right", "baseline": "middle", "font": "Liberation Serif", "fontSize": 19, "color": "#1a1a1a"},
                      "encoding": {
                        "y": {"field": "term", "type": "nominal", "axis": null},
                        "x": {"datum": 7.445},
                        "text": {"field": "term"}
                      }
                    },
                    {
                      "data": {"values": [{}]},
                      "mark": {"type": "rule", "color": "black", "strokeWidth": 4},
                      "encoding": {"x": {"datum": 0}}
                    },
                    {
                      "data": {"values": [{}]},
                      "mark": {"type": "rule", "color": "black", "strokeWidth": 3},
                      "encoding": {"x": {"datum": 0}, "x2": {"datum": 5}, "y": {"value": "height"}}
                    },
                    {
                      "data": {"name": "f_groups"},
                      "mark": {"type": "rule", "color": "#333333", "strokeWidth": 1.5},
                      "encoding": {
                        "x": {"datum": -0.187},
                        "y": {"field": "first", "type": "nominal", "bandPosition": -0.15, "axis": null},
                        "y2": {"field": "last", "bandPosition": 1.15}
                      }
                    },
                    {
                      "data": {"name": "f_groups"},
                      "mark": {"type": "rule", "color": "#333333", "strokeWidth": 1.5},
                      "encoding": {
                        "x": {"datum": -0.187}, "x2": {"datum": -0.068},
                        "y": {"field": "first", "type": "nominal", "bandPosition": -0.15, "axis": null}
                      }
                    },
                    {
                      "data": {"name": "f_groups"},
                      "mark": {"type": "rule", "color": "#333333", "strokeWidth": 1.5},
                      "encoding": {
                        "x": {"datum": -0.187}, "x2": {"datum": -0.068},
                        "y": {"field": "last", "type": "nominal", "bandPosition": 1.15, "axis": null}
                      }
                    },
                    {
                      "data": {"name": "f_groups"},
                      "transform": [{"filter": {"field": "group", "equal": "Trans-synaptic signaling"}}],
                      "mark": {"type": "text", "align": "center", "baseline": "middle", "font": "Roboto", "fontSize": 18, "lineBreak": " ", "lineHeight": 22, "color": "#1a1a1a"},
                      "encoding": {
                        "x": {"datum": -1.447},
                        "y": {"field": "at", "type": "nominal", "axis": null},
                        "text": {"field": "group"}
                      }
                    },
                    {
                      "data": {"name": "f_groups"},
                      "transform": [{"filter": {"field": "group", "equal": "Neuronal projection"}}],
                      "mark": {"type": "text", "align": "center", "baseline": "middle", "font": "Roboto", "fontSize": 18, "lineBreak": " ", "lineHeight": 22, "color": "#1a1a1a"},
                      "encoding": {
                        "x": {"datum": -1.09},
                        "y": {"field": "at", "type": "nominal", "bandPosition": 1.362, "axis": null},
                        "text": {"field": "group"}
                      }
                    }
                  ]
                }
              ],
              "spacing": 4,
              "bounds": "flush"
            }
          ],
          "spacing": 567,
          "bounds": "flush",
          "resolve": {"scale": {"fill": "independent", "stroke": "independent"}}
        },
        {
          "vconcat": [
            {
              "width": 691, "height": 55,
              "data": {"values": [{}]},
              "layer": [
                {
                  "mark": {"type": "rect", "fill": "white", "stroke": "black", "strokeWidth": 2},
                  "encoding": {
                    "x": {"datum": 0.0897, "type": "quantitative", "scale": {"domain": [0, 1], "nice": false, "zero": false}, "axis": null},
                    "x2": {"datum": 0.9624},
                    "y": {"datum": 0.03, "type": "quantitative", "scale": {"domain": [0, 1], "nice": false, "zero": false, "reverse": true}, "axis": null},
                    "y2": {"datum": 1.01}
                  }
                },
                {
                  "mark": {"type": "text", "text": "MAPT", "font": "Open Sans", "fontSize": 37, "fontStyle": "italic", "align": "right", "baseline": "middle"},
                  "encoding": {"x": {"datum": 0.338, "axis": null}, "y": {"datum": 0.54, "axis": null}}
                },
                {
                  "mark": {"type": "text", "text": "IVS10+16 & p.P301L", "font": "Open Sans", "fontSize": 37, "align": "left", "baseline": "middle", "dx": 10},
                  "encoding": {"x": {"datum": 0.338, "axis": null}, "y": {"datum": 0.54, "axis": null}}
                },
                {
                  "mark": {"type": "text", "text": "G", "font": "Open Sans", "fontSize": 46, "align": "center", "baseline": "middle"},
                  "encoding": {"x": {"datum": 0.039, "axis": null}, "y": {"datum": 0.54, "axis": null}}
                }
              ]
            },
            {
              "width": 691, "height": 702,
              "layer": [
                {
                  "data": {"name": "g_terms"},
                  "mark": {"type": "bar", "stroke": "#333333", "strokeWidth": 0.8},
                  "encoding": {
                    "y": {"field": "term", "type": "nominal", "sort": null,
                          "scale": {"domain": ["Negative regulation of signal transduction","Negative regulation of Notch signaling pathway","Regulation of receptor signaling pathway via STAT","Regulation of Rap protein signal transduction","Cell surface receptor signaling pathway involved in cell-cell signaling","Regulation of receptor signaling pathway via JAK-STAT","Negative regulation of Wnt signaling pathway","ERBB signaling pathway","Synapse","Neurotransmitter transport","Anterograde trans-synaptic signaling","Brain development","Negative neuron differentiation","Gliogenesis","Dendrite development","Negative regulation of nervous system development","Oligodendrocyte cell fate specification","Myelin sheath","Memory","Nervous system development","Dendritic tree","Coated vesicle membrane","Secretory vesicle","Lysosome","Vacuolar lumen","Receptor-mediated endocytosis"], "paddingInner": 0.35, "paddingOuter": 0.09},
                          "axis": null},
                    "x": {"field": "neglog10p", "type": "quantitative", "scale": {"domain": [-0.789, 12.835], "nice": false, "zero": false},
                          "axis": {"title": "- Log₁₀ P-value", "values": [0, 2.5, 5, 7.5, 10, 12.5], "format": ".1f", "domain": false, "tickSize": 7, "tickWidth": 2.5, "labelFont": "Roboto", "labelFontSize": 17, "labelPadding": 15, "titleFont": "Roboto", "titleFontSize": 20, "titleFontWeight": "normal", "titlePadding": 3, "titleX": 359}},
                    "x2": {"datum": 0},
                    "fill": {"field": "category", "type": "nominal", "scale": {"domain": ["Set 1", "Set 2"], "range": ["#d42b10", "#4f7dc4"]}, "legend": null}
                  }
                },
                {
                  "data": {"name": "g_terms"},
                  "mark": {"type": "text", "align": "right", "baseline": "middle", "font": "Liberation Serif", "fontSize": 13.6, "color": "#1a1a1a"},
                  "encoding": {
                    "y": {"field": "term", "type": "nominal", "axis": null},
                    "x": {"datum": 12.84},
                    "text": {"field": "term"}
                  }
                },
                {
                  "data": {"values": [{}]},
                  "mark": {"type": "rule", "color": "black", "strokeWidth": 4},
                  "encoding": {"x": {"datum": 0}}
                },
                {
                  "data": {"values": [{}]},
                  "mark": {"type": "rule", "color": "black", "strokeWidth": 3},
                  "encoding": {"x": {"datum": 0}, "x2": {"datum": 12.5}, "y": {"value": "height"}}
                },
                {
                  "data": {"name": "g_groups"},
                  "mark": {"type": "rule", "color": "#333333", "strokeWidth": 1.5},
                  "encoding": {
                    "x": {"datum": -0.532},
                    "y": {"field": "first", "type": "nominal", "bandPosition": -0.15, "axis": null},
                    "y2": {"field": "last", "bandPosition": 1.15}
                  }
                },
                {
                  "data": {"name": "g_groups"},
                  "mark": {"type": "rule", "color": "#333333", "strokeWidth": 1.5},
                  "encoding": {
                    "x": {"datum": -0.532}, "x2": {"datum": -0.276},
                    "y": {"field": "first", "type": "nominal", "bandPosition": -0.15, "axis": null}
                  }
                },
                {
                  "data": {"name": "g_groups"},
                  "mark": {"type": "rule", "color": "#333333", "strokeWidth": 1.5},
                  "encoding": {
                    "x": {"datum": -0.532}, "x2": {"datum": -0.276},
                    "y": {"field": "last", "type": "nominal", "bandPosition": 1.15, "axis": null}
                  }
                },
                {
                  "data": {"name": "g_groups"},
                  "mark": {"type": "text", "align": "center", "baseline": "middle", "angle": 270, "font": "Liberation Sans", "fontSize": 17, "fill": "white", "stroke": "white", "strokeWidth": 9},
                  "encoding": {
                    "x": {"datum": -0.532},
                    "y": {"field": "at", "type": "nominal", "axis": null},
                    "text": {"field": "group"}
                  }
                },
                {
                  "data": {"name": "g_groups"},
                  "mark": {"type": "text", "align": "center", "baseline": "middle", "angle": 270, "font": "Liberation Sans", "fontSize": 17, "color": "#1a1a1a"},
                  "encoding": {
                    "x": {"datum": -0.532},
                    "y": {"field": "at", "type": "nominal", "axis": null},
                    "text": {"field": "group"}
                  }
                }
              ]
            }
          ],
          "spacing": 21,
          "bounds": "flush"
        }
      ],
      "spacing": 708,
      "bounds": "flush",
      "resolve": {"scale": {"fill": "independent", "stroke": "independent"}}
    }
  ]
}
